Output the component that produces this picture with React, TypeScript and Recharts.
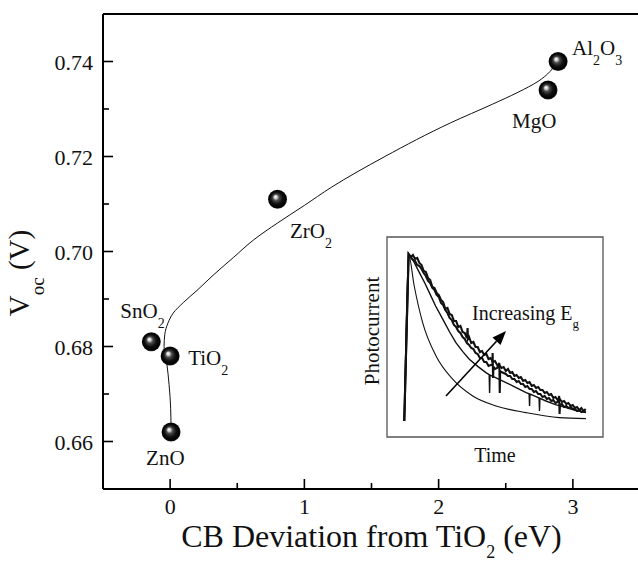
import React from "react";
import {
  ComposedChart,
  LineChart,
  Line,
  Scatter,
  XAxis,
  YAxis,
  ReferenceLine,
  ReferenceArea,
} from "recharts";

const FONT = "'Liberation Serif', 'Times New Roman', Tinos, serif";

// ---------- main chart data ----------
const oxideNames = ["SnO2", "TiO2", "ZnO", "ZrO2", "Al2O3", "MgO"];
const cbDeviation = [-0.14, 0, 0.007, 0.8, 2.89, 2.815];
const vocValues = [0.681, 0.678, 0.662, 0.711, 0.74, 0.734];

// fitted guide curve
const fitX = [0.007, 0.004, -0.008, -0.025, -0.045, -0.04, -0.015, 0.022, 0.1, 0.2, 0.32, 0.47, 0.62, 0.8, 1.0, 1.2, 1.6, 2.09, 2.4, 2.59, 2.74, 2.89];
const fitY = [0.662, 0.667, 0.672, 0.6765, 0.68, 0.6825, 0.685, 0.687, 0.6893, 0.6918, 0.695, 0.6987, 0.7024, 0.706, 0.7097, 0.7135, 0.72, 0.7271, 0.731, 0.7335, 0.7358, 0.74];

const xTicks = [0, 0.5, 1, 1.5, 2, 2.5, 3];
const xMajorTicks = [0, 1, 2, 3];
const yTicks = [0.66, 0.67, 0.68, 0.69, 0.7, 0.71, 0.72, 0.73, 0.74];
const yMajorTicks = [0.66, 0.68, 0.7, 0.72, 0.74];
const yTickLabels = ["0.66", "0.68", "0.70", "0.72", "0.74"];

// ---------- inset data (photocurrent transients) ----------
const insetTimeA = [8, 10, 12.6, 16.5, 22.7, 30.4, 39.7, 50.5, 64.4, 79.8, 92.1];
const insetCurrentA = [8, 91.3, 75.5, 57.2, 40.5, 28.9, 20.5, 15.5, 12.2, 9.7, 9.2];

const insetTimeB = [8, 10, 12, 15, 17.5, 19.6, 22.5, 25.8, 29, 31.9, 35, 38.1, 42, 45.8, 47.3, 47.5, 47.7, 50, 55.1, 60, 64.4, 65.8, 66, 66.2, 69, 70.4, 70.6, 70.8, 73.6, 78, 82.9, 87, 92.1];
const insetCurrentB = [8, 91.3, 88.5, 82.2, 77, 72.2, 65.5, 58.9, 52.5, 47.2, 42.8, 38.9, 35.3, 32.2, 31.2, 22, 31, 29.8, 27.2, 24.6, 22.2, 21.6, 15.5, 21.5, 20.2, 19.5, 13, 19.3, 18, 16.2, 14.7, 13.4, 12.2];

const insetTimeC = [8, 10, 11, 12, 13, 14, 15, 16, 17, 18, 19, 20, 21, 22, 23, 24, 25, 26, 27, 28, 29, 30, 31, 32, 33, 34, 35, 36, 37, 38, 39, 40, 41, 42, 43, 44, 45, 46, 47, 48, 48.8, 48.9, 49.1, 49.3, 50, 51, 52, 52.2, 52.4, 53, 54, 55, 56, 57, 58, 59, 60, 61, 62, 63, 64, 65, 66, 67, 68, 69, 70, 71, 72, 73, 74, 75, 76, 77, 78, 79, 79.7, 79.9, 80.1, 81, 82, 83, 84, 85, 86, 87, 88, 89, 90, 91, 92];
const insetCurrentC = [8, 91.3, 90, 88.5, 88, 86, 85.5, 84, 82, 80.5, 78, 77, 74.5, 73.5, 71, 70, 67, 66, 63.5, 62, 59.5, 58.5, 56, 55, 53, 52, 50, 49, 47, 46, 44.5, 44, 42, 41.5, 39.5, 39.5, 37.5, 37.5, 35.5, 36, 36, 42, 29.5, 35, 34, 34.5, 37, 22, 33, 32.5, 32, 31.5, 30.5, 30.5, 29, 29, 27.5, 28, 26.5, 26.5, 25, 25.5, 24, 24, 22.5, 23, 21.5, 21.5, 20, 20.5, 19, 19.5, 18, 18.5, 17, 17.5, 20.5, 11.5, 16, 16.5, 15, 15.5, 14.5, 15, 14, 14, 13, 13.5, 12.5, 13, 12.5];

const insetTimeD = [8, 10, 11, 12, 13, 14, 15, 16, 17, 18, 19, 20, 21, 22, 23, 24, 25, 26, 27, 28, 29, 30, 31, 32, 33, 34, 35, 36, 37, 37.3, 37.5, 38, 39, 40, 41, 42, 43, 44, 45, 46, 47, 48, 49, 50, 51, 52, 53, 54, 55, 56, 57, 58, 59, 60, 61, 62, 63, 64, 65, 66, 67, 68, 69, 70, 71, 72, 73, 74, 75, 76, 77, 78, 79, 80, 81, 82, 83, 84, 85, 86, 87, 88, 89, 90, 91, 92];
const insetCurrentD = [8, 91.5, 90, 91, 89, 89.5, 87, 86, 83, 82.5, 79.5, 78.5, 75, 74.5, 72, 71, 68.5, 67.5, 64, 64.5, 61.5, 61, 58, 58, 55, 55.5, 52.5, 52, 49.5, 54.5, 49, 50, 47, 47.5, 45, 45, 42.5, 43, 41, 41.5, 39, 39.5, 37.5, 38, 36, 36, 34.5, 35, 33, 34, 32, 32.5, 30.5, 31, 29.5, 30, 28, 28.5, 27, 27.5, 25.5, 26, 24.5, 25, 23.5, 23.5, 22, 22.5, 21, 21.5, 19.5, 20, 18.5, 19, 17.5, 18, 16.5, 17, 15.5, 16, 14.5, 15, 13.5, 14.5, 13, 14];

const arrowFrom = { x: 27.3, y: 20.5 };
const arrowTo = { x: 55.1, y: 53 };

type Part = [string, boolean];
const labelParts: Record<string, Part[]> = {
  SnO2: [["SnO", false], ["2", true]],
  TiO2: [["TiO", false], ["2", true]],
  ZnO: [["ZnO", false]],
  ZrO2: [["ZrO", false], ["2", true]],
  Al2O3: [["Al", false], ["2", true], ["O", false], ["3", true]],
  MgO: [["MgO", false]],
};
const labelOffsets: Record<string, [number, number]> = {
  SnO2: [-31, -24],
  TiO2: [18, 9],
  ZnO: [-25, 33],
  ZrO2: [12.5, 39],
  Al2O3: [14, -6.5],
  MgO: [-36, 38],
};

const scatterData = oxideNames.map((name, i) => ({ name, x: cbDeviation[i], y: vocValues[i] }));
const fitData = fitX.map((x, i) => ({ x, y: fitY[i] }));
const mk = (ts: number[], vs: number[]) => ts.map((t, i) => ({ t, i: vs[i] }));
const insetA = mk(insetTimeA, insetCurrentA);
const insetB = mk(insetTimeB, insetCurrentB);
const insetC = mk(insetTimeC, insetCurrentC);
const insetD = mk(insetTimeD, insetCurrentD);

function RichText(props: {
  x: number;
  y: number;
  parts: Part[];
  size: number;
  subSize: number;
  shift: number;
  anchor?: "start" | "middle" | "end";
  transform?: string;
}) {
  const { x, y, parts, size, subSize, shift, anchor = "start", transform } = props;
  let cur = 0;
  const kids = parts.map(([t, sub], k) => {
    const target = sub ? shift : 0;
    const dy = target - cur;
    cur = target;
    return (
      <tspan key={k} dy={dy} fontSize={sub ? subSize : size}>
        {t}
      </tspan>
    );
  });
  return (
    <text x={x} y={y} textAnchor={anchor} fontFamily={FONT} fontSize={size} fill="#111" transform={transform}>
      {kids}
    </text>
  );
}

const Ball = (props: any) => {
  const { cx, cy, payload } = props;
  if (cx == null || cy == null) return null;
  const name = payload.name as string;
  const [dx, dy] = labelOffsets[name];
  return (
    <g>
      <defs>
        <radialGradient id="ballGrad" cx="50%" cy="50%" r="50%" fx="38%" fy="36%">
          <stop offset="0%" stopColor="#ffffff" />
          <stop offset="16%" stopColor="#d0d0d0" />
          <stop offset="34%" stopColor="#4a4a4a" />
          <stop offset="62%" stopColor="#111111" />
          <stop offset="90%" stopColor="#000000" />
          <stop offset="100%" stopColor="#2a2a2a" />
        </radialGradient>
      </defs>
      <circle cx={cx} cy={cy} r={9.5} fill="url(#ballGrad)" />
      <RichText x={cx + dx} y={cy + dy} parts={labelParts[name]} size={21} subSize={14} shift={10} />
    </g>
  );
};

const near = (a: number, b: number) => Math.abs(a - b) < 1e-6;

const XTick = (props: any) => {
  const { x, y, payload } = props;
  const v = payload.value as number;
  const major = xMajorTicks.some((m) => near(m, v));
  return (
    <g>
      <line x1={x} x2={x} y1={y} y2={y - (major ? 10 : 6)} stroke="#000" strokeWidth={1.6} />
      {major && (
        <text x={x} y={y + 25} textAnchor="middle" fontFamily={FONT} fontSize={22} fill="#111">
          {String(v)}
        </text>
      )}
    </g>
  );
};

const YTick = (props: any) => {
  const { x, y, payload } = props;
  const v = payload.value as number;
  const idx = yMajorTicks.findIndex((m) => near(m, v));
  const major = idx >= 0;
  return (
    <g>
      <line x1={x} x2={x + (major ? 10 : 6)} y1={y} y2={y} stroke="#000" strokeWidth={1.6} />
      {major && (
        <text x={x - 10} y={y + 8} textAnchor="end" fontFamily={FONT} fontSize={22} fill="#111">
          {yTickLabels[idx]}
        </text>
      )}
    </g>
  );
};

const XLabel = (props: any) => {
  const vb = props.viewBox || { x: 103, y: 489, width: 537 };
  return (
    <RichText
      x={vb.x + vb.width / 2}
      y={vb.y + 58}
      anchor="middle"
      parts={[["CB Deviation from TiO", false], ["2", true], [" (eV)", false]]}
      size={32}
      subSize={18}
      shift={11}
    />
  );
};

const YLabel = () => (
  <RichText
    x={0}
    y={0}
    anchor="middle"
    transform="translate(29,273) rotate(-90)"
    parts={[["V", false], ["oc", true], [" (V)", false]]}
    size={29}
    subSize={19}
    shift={15}
  />
);

const ArrowShape = (props: any) => {
  const { x1, y1, x2, y2 } = props;
  if ([x1, y1, x2, y2].some((v) => v == null || isNaN(v))) return null;
  const ang = Math.atan2(y2 - y1, x2 - x1);
  const L = 14;
  const W = 5.5;
  const bx = x2 - L * Math.cos(ang);
  const by = y2 - L * Math.sin(ang);
  const px = -Math.sin(ang) * W;
  const py = Math.cos(ang) * W;
  return (
    <g>
      <line x1={x1} y1={y1} x2={bx} y2={by} stroke="#000" strokeWidth={1.6} />
      <polygon points={`${x2},${y2} ${bx + px},${by + py} ${bx - px},${by - py}`} fill="#000" />
    </g>
  );
};

export default function App() {
  return (
    <div style={{ position: "absolute", left: 0, top: 0, width: 638, height: 561, overflow: "hidden", background: "#fff" }}>
      <div style={{ position: "absolute", left: 0, top: 0 }}>
        <ComposedChart width={641} height={561} margin={{ top: 14, right: 1, bottom: 0, left: 0 }}>
          <XAxis
            type="number"
            dataKey="x"
            domain={[-0.5, 3.5]}
            ticks={xTicks}
            interval={0}
            allowDataOverflow
            height={72}
            tickSize={0}
            tickMargin={0}
            tick={<XTick />}
            axisLine={{ stroke: "#000", strokeWidth: 2 }}
            tickLine={false}
            label={<XLabel />}
          />
          <YAxis
            type="number"
            dataKey="y"
            domain={[0.65, 0.75]}
            ticks={yTicks}
            interval={0}
            allowDataOverflow
            width={103}
            tickSize={0}
            tickMargin={0}
            tick={<YTick />}
            axisLine={{ stroke: "#000", strokeWidth: 2 }}
            tickLine={false}
            label={<YLabel />}
          />
          <ReferenceLine y={0.75} stroke="#000" strokeWidth={2} />
          <Line data={fitData} dataKey="y" type="monotoneY" stroke="#111" strokeWidth={1} dot={false} activeDot={false} isAnimationActive={false} />
          <Scatter data={scatterData} dataKey="y" shape={<Ball />} isAnimationActive={false} />
        </ComposedChart>
      </div>

      <div style={{ position: "absolute", left: 355, top: 230 }}>
        <LineChart width={255} height={245} margin={{ top: 7, right: 7, bottom: 38, left: 32 }}>
          <XAxis type="number" dataKey="t" domain={[0, 100]} hide allowDataOverflow />
          <YAxis type="number" dataKey="i" domain={[0, 100]} hide allowDataOverflow />
          <ReferenceArea x1={0} x2={100} y1={0} y2={100} fill="#fff" fillOpacity={1} stroke="#555" strokeWidth={1.3} />
          <Line data={insetA} dataKey="i" type="monotone" stroke="#111" strokeWidth={1.1} dot={false} activeDot={false} isAnimationActive={false} />
          <Line data={insetB} dataKey="i" type="linear" stroke="#111" strokeWidth={1.4} dot={false} activeDot={false} isAnimationActive={false} />
          <Line data={insetC} dataKey="i" type="linear" stroke="#111" strokeWidth={2.1} dot={false} activeDot={false} isAnimationActive={false} />
          <Line data={insetD} dataKey="i" type="linear" stroke="#111" strokeWidth={2.1} dot={false} activeDot={false} isAnimationActive={false} />
          <ReferenceLine segment={[arrowFrom, arrowTo]} shape={<ArrowShape />} />
        </LineChart>
      </div>

      <svg width={638} height={561} style={{ position: "absolute", left: 0, top: 0, pointerEvents: "none" }}>
        <text transform="translate(379,331) rotate(-90)" textAnchor="middle" fontFamily={FONT} fontSize={21} fill="#111">
          Photocurrent
        </text>
        <text x={495} y={462} textAnchor="middle" fontFamily={FONT} fontSize={20} fill="#111">
          Time
        </text>
        <RichText x={472} y={319.5} parts={[["Increasing E", false], ["g", true]]} size={20} subSize={13} shift={8} />
      </svg>
    </div>
  );
}
